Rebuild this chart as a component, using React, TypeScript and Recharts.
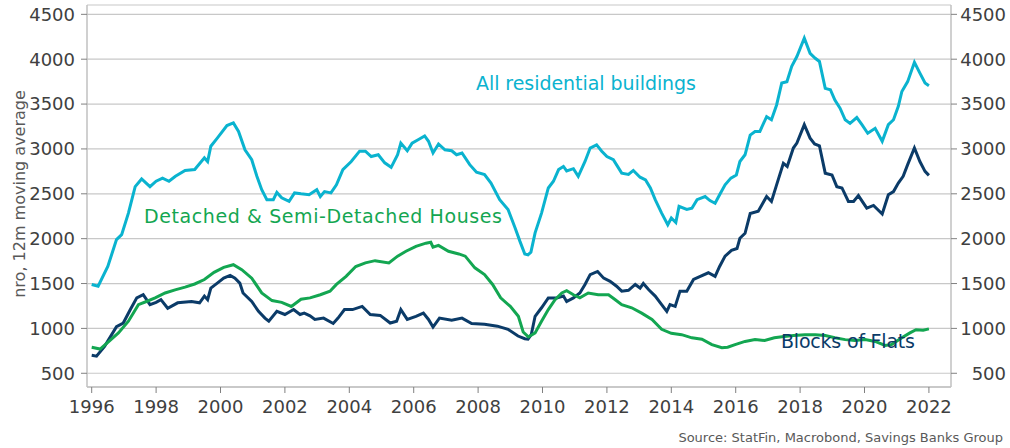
import React from 'react';
import { LineChart, Line, XAxis, YAxis, CartesianGrid } from 'recharts';

// ---- data ----
const allResYears = [
  1996.0, 1996.2, 1996.5, 1996.77, 1996.93, 1997.14, 1997.35, 1997.55, 1997.81, 1998.0,
  1998.2, 1998.4, 1998.6, 1998.9, 1999.2, 1999.5, 1999.6, 1999.7, 1999.9, 2000.2,
  2000.4, 2000.56, 2000.76, 2000.97, 2001.13, 2001.28, 2001.44, 2001.64, 2001.75, 2001.9,
  2002.13, 2002.3, 2002.5, 2002.75, 2002.99, 2003.1, 2003.23, 2003.43, 2003.6, 2003.8,
  2004.06, 2004.32, 2004.5, 2004.68, 2004.9, 2005.1, 2005.3, 2005.5, 2005.6, 2005.8,
  2005.95, 2006.15, 2006.34, 2006.46, 2006.6, 2006.77, 2006.97, 2007.18, 2007.33, 2007.5,
  2007.74, 2007.95, 2008.2, 2008.4, 2008.67, 2008.93, 2009.15, 2009.3, 2009.45, 2009.55,
  2009.64, 2009.77, 2009.97, 2010.18, 2010.34, 2010.5, 2010.65, 2010.75, 2010.96, 2011.11,
  2011.32, 2011.48, 2011.68, 2011.84, 2012.0, 2012.2, 2012.46, 2012.67, 2012.82, 2013.03,
  2013.2, 2013.35, 2013.5, 2013.7, 2013.89, 2014.0, 2014.14, 2014.24, 2014.48, 2014.64,
  2014.8, 2015.05, 2015.2, 2015.36, 2015.5, 2015.67, 2015.85, 2016.02, 2016.13, 2016.29,
  2016.45, 2016.6, 2016.75, 2016.96, 2017.11, 2017.27, 2017.43, 2017.59, 2017.74, 2017.9,
  2018.13, 2018.31, 2018.47, 2018.6, 2018.78, 2018.94, 2019.08, 2019.24, 2019.4, 2019.55,
  2019.76, 2019.92, 2020.1, 2020.33, 2020.55, 2020.74, 2020.9, 2021.05, 2021.16, 2021.34,
  2021.55, 2021.72, 2021.88, 2022.0,
];
const allResValues = [
  1490, 1470, 1690, 1990, 2045, 2285, 2580, 2665, 2580, 2640,
  2675, 2640, 2695, 2760, 2770, 2900, 2860, 3030, 3120, 3260,
  3290, 3195, 2990, 2880, 2695, 2545, 2435, 2435, 2515, 2455,
  2415, 2510, 2500, 2490, 2545, 2470, 2525, 2510, 2600, 2770,
  2860, 2975, 2975, 2915, 2935, 2845, 2795, 2935, 3065, 2980,
  3065, 3105, 3145, 3085, 2955, 3055, 2990, 2980, 2935, 2955,
  2825, 2740, 2715, 2620, 2435, 2325, 2120, 1970, 1830, 1820,
  1850, 2065, 2285, 2565, 2640, 2770, 2805, 2755, 2780, 2695,
  2860, 3010, 3045, 2975, 2915, 2880, 2730, 2715, 2760, 2685,
  2655, 2565, 2435, 2285, 2155, 2230, 2180, 2360, 2325, 2340,
  2435, 2470, 2425, 2395, 2490, 2600, 2675, 2710, 2860, 2935,
  3155, 3195, 3195, 3360, 3325, 3490, 3735, 3750, 3920, 4030,
  4235, 4065, 4010, 3975, 3675, 3660, 3545, 3455, 3325, 3285,
  3350, 3270, 3175, 3230, 3085, 3270, 3325, 3475, 3640, 3750,
  3965, 3845, 3735, 3705,
];

const flatsYears = [
  1996.0, 1996.15, 1996.4, 1996.77, 1996.98, 1997.2, 1997.4, 1997.6, 1997.81, 1998.0,
  1998.15, 1998.36, 1998.67, 1999.1, 1999.35, 1999.5, 1999.6, 1999.7, 1999.9, 2000.1,
  2000.3, 2000.45, 2000.6, 2000.7, 2000.97, 2001.18, 2001.38, 2001.5, 2001.75, 2002.0,
  2002.27, 2002.47, 2002.6, 2002.78, 2002.93, 2003.2, 2003.5, 2003.65, 2003.85, 2004.1,
  2004.4, 2004.65, 2004.96, 2005.27, 2005.47, 2005.6, 2005.8, 2006.07, 2006.3, 2006.46,
  2006.6, 2006.8, 2007.18, 2007.5, 2007.8, 2008.2, 2008.6, 2008.93, 2009.24, 2009.45,
  2009.55, 2009.65, 2009.77, 2009.97, 2010.18, 2010.44, 2010.65, 2010.75, 2010.96, 2011.16,
  2011.32, 2011.48, 2011.71, 2011.9, 2012.1, 2012.3, 2012.46, 2012.67, 2012.88, 2013.03,
  2013.13, 2013.3, 2013.5, 2013.7, 2013.86, 2013.96, 2014.12, 2014.27, 2014.48, 2014.69,
  2014.9, 2015.15, 2015.36, 2015.5, 2015.67, 2015.87, 2016.04, 2016.13, 2016.29, 2016.45,
  2016.7, 2016.96, 2017.11, 2017.27, 2017.48, 2017.6, 2017.79, 2017.9, 2018.13, 2018.31,
  2018.45, 2018.6, 2018.78, 2018.99, 2019.14, 2019.3, 2019.5, 2019.66, 2019.81, 2020.07,
  2020.28, 2020.55, 2020.74, 2020.9, 2021.05, 2021.2, 2021.34, 2021.55, 2021.72, 2021.88,
  2022.0,
];
const flatsValues = [
  700, 690, 800, 1020, 1060, 1210, 1340, 1375, 1265, 1290,
  1320, 1225, 1285, 1300, 1285, 1360, 1320, 1450, 1505, 1560,
  1590, 1560, 1505, 1395, 1300, 1190, 1115, 1080, 1190, 1155,
  1210, 1155, 1170, 1140, 1100, 1115, 1055, 1115, 1210, 1210,
  1245, 1155, 1145, 1060, 1080, 1210, 1100, 1135, 1170, 1100,
  1015, 1115, 1090, 1115, 1055, 1045, 1025, 990, 915, 885,
  880, 930, 1135, 1230, 1340, 1340, 1360, 1300, 1340, 1395,
  1490, 1600, 1635, 1560, 1525, 1470, 1415, 1425, 1490, 1450,
  1500, 1430, 1360, 1265, 1190, 1265, 1245, 1415, 1415, 1545,
  1580, 1620, 1580, 1690, 1805, 1870, 1890, 2005, 2060, 2280,
  2305, 2470, 2415, 2600, 2840, 2805, 3010, 3065, 3270, 3120,
  3055, 3035, 2730, 2710, 2580, 2565, 2415, 2415, 2480, 2340,
  2370, 2275, 2490, 2525, 2620, 2695, 2825, 3010, 2860, 2750,
  2705,
];

const housesYears = [
  1996.0, 1996.26, 1996.5, 1996.83, 1997.14, 1997.45, 1997.7, 1997.97, 1998.28, 1998.59,
  1998.9, 1999.2, 1999.5, 1999.8, 2000.1, 2000.4, 2000.66, 2000.97, 2001.28, 2001.6,
  2001.9, 2002.2, 2002.5, 2002.78, 2003.1, 2003.4, 2003.6, 2003.9, 2004.2, 2004.5,
  2004.8, 2005.23, 2005.5, 2005.76, 2006.07, 2006.38, 2006.53, 2006.6, 2006.77, 2007.08,
  2007.4, 2007.6, 2007.9, 2008.2, 2008.45, 2008.7, 2009.0, 2009.25, 2009.4, 2009.56,
  2009.77, 2009.97, 2010.18, 2010.39, 2010.6, 2010.75, 2010.96, 2011.16, 2011.42, 2011.73,
  2012.05, 2012.26, 2012.46, 2012.77, 2013.08, 2013.4, 2013.7, 2014.0, 2014.32, 2014.64,
  2014.95, 2015.26, 2015.57, 2015.75, 2015.98, 2016.29, 2016.6, 2016.9, 2017.2, 2017.5,
  2017.8, 2018.15, 2018.47, 2018.78, 2019.08, 2019.4, 2019.7, 2020.02, 2020.33, 2020.64,
  2020.84, 2021.16, 2021.41, 2021.6, 2021.82, 2022.0,
];
const housesValues = [
  790, 770, 845, 950, 1080, 1265, 1300, 1340, 1395, 1430,
  1460, 1495, 1545, 1625, 1680, 1710, 1655, 1560, 1395, 1310,
  1290, 1245, 1325, 1340, 1375, 1415, 1490, 1580, 1690, 1730,
  1755, 1730, 1805, 1860, 1915, 1950, 1960, 1905, 1925, 1860,
  1830, 1805, 1675, 1600, 1490, 1340, 1245, 1135, 960, 905,
  950, 1080, 1210, 1320, 1395, 1420, 1375, 1340, 1395, 1375,
  1375, 1320, 1265, 1230, 1170, 1100, 990, 945, 930, 895,
  880, 820, 785, 790, 820, 855, 875, 865, 895, 910,
  920, 930, 930, 920, 895, 875, 865, 875, 855, 810,
  820, 895, 950, 985, 980, 995,
];

const xTicks = [1996, 1998, 2000, 2002, 2004, 2006, 2008, 2010, 2012, 2014, 2016, 2018, 2020, 2022];
const yTicks = [500, 1000, 1500, 2000, 2500, 3000, 3500, 4000, 4500];

const toPoints = (xs: number[], ys: number[]) => xs.map((x, i) => ({ x, y: ys[i] }));
const allResData = toPoints(allResYears, allResValues);
const flatsData = toPoints(flatsYears, flatsValues);
const housesData = toPoints(housesYears, housesValues);

const FONT = '"DejaVu Sans", sans-serif';
const CYAN = '#0AB3CF';
const GREEN = '#13A651';
const NAVY = '#0B3B68';
const TEXT = '#404040';
const AXIS = '#c0c0c0';
const GRID = '#c8c8c8';

const RightTick = (props: any) => {
  const { x, y, payload } = props;
  return (
    <text x={x + 47} y={y} dy="0.355em" textAnchor="end" fill={TEXT} fontSize={18} fontFamily={FONT}>
      {payload.value}
    </text>
  );
};

export default function App() {
  return (
    <div style={{ position: 'absolute', left: 0, top: 0, width: 1010, height: 448, background: '#fff' }}>
      <LineChart width={1010} height={448} margin={{ top: 5, right: 0, left: 0, bottom: 0 }}>
        <CartesianGrid yAxisId="left" vertical={false} stroke={GRID} strokeWidth={1.2} />
        <XAxis
          type="number"
          dataKey="x"
          domain={[1995.854, 2022.686]}
          allowDataOverflow
          ticks={xTicks}
          height={61}
          tickSize={6}
          tickMargin={7}
          axisLine={{ stroke: AXIS, strokeWidth: 1.5 }}
          tickLine={{ stroke: '#808080' }}
          tick={{ fill: TEXT, fontSize: 18, fontFamily: FONT }}
          interval={0}
        />
        <YAxis
          yAxisId="left"
          orientation="left"
          width={87}
          domain={[347, 4604]}
          allowDataOverflow
          ticks={yTicks}
          tickSize={6}
          tickMargin={6}
          axisLine={{ stroke: AXIS, strokeWidth: 1.5 }}
          tickLine={{ stroke: '#808080' }}
          tick={{ fill: TEXT, fontSize: 18, fontFamily: FONT }}
          interval={0}
        />
        <YAxis
          yAxisId="right"
          orientation="right"
          width={59}
          domain={[347, 4604]}
          allowDataOverflow
          ticks={yTicks}
          tickSize={6}
          tickMargin={2}
          axisLine={{ stroke: AXIS, strokeWidth: 1.5 }}
          tickLine={{ stroke: '#808080' }}
          tick={<RightTick />}
          interval={0}
        />
        <Line yAxisId="left" data={flatsData} dataKey="y" type="linear" stroke={NAVY} strokeWidth={3} dot={false} isAnimationActive={false} />
        <Line yAxisId="left" data={housesData} dataKey="y" type="linear" stroke={GREEN} strokeWidth={3} dot={false} isAnimationActive={false} />
        <Line yAxisId="left" data={allResData} dataKey="y" type="linear" stroke={CYAN} strokeWidth={3} dot={false} isAnimationActive={false} />
      </LineChart>
      <svg width={1010} height={448} style={{ position: 'absolute', left: 0, top: 0, pointerEvents: 'none' }}>
        <text x={25} y={194} transform="rotate(-90 25 194)" textAnchor="middle" fill="#595959" fontSize={16} fontFamily={FONT}>
          nro, 12m moving average
        </text>
        <text x={476} y={90} fill={CYAN} fontSize={19} fontFamily={FONT} textLength={220} lengthAdjust="spacing">
          All residential buildings
        </text>
        <text x={144} y={222.5} fill={GREEN} fontSize={19} fontFamily={FONT} textLength={358} lengthAdjust="spacing">
          Detached &amp; Semi-Detached Houses
        </text>
        <text x={781} y={348} fill={NAVY} fontSize={19} fontFamily={FONT} textLength={134} lengthAdjust="spacing">
          Blocks of Flats
        </text>
        <text x={1003} y={441.5} textAnchor="end" fill="#595959" fontSize={13} fontFamily={FONT}>
          Source: StatFin, Macrobond, Savings Banks Group
        </text>
      </svg>
    </div>
  );
}
